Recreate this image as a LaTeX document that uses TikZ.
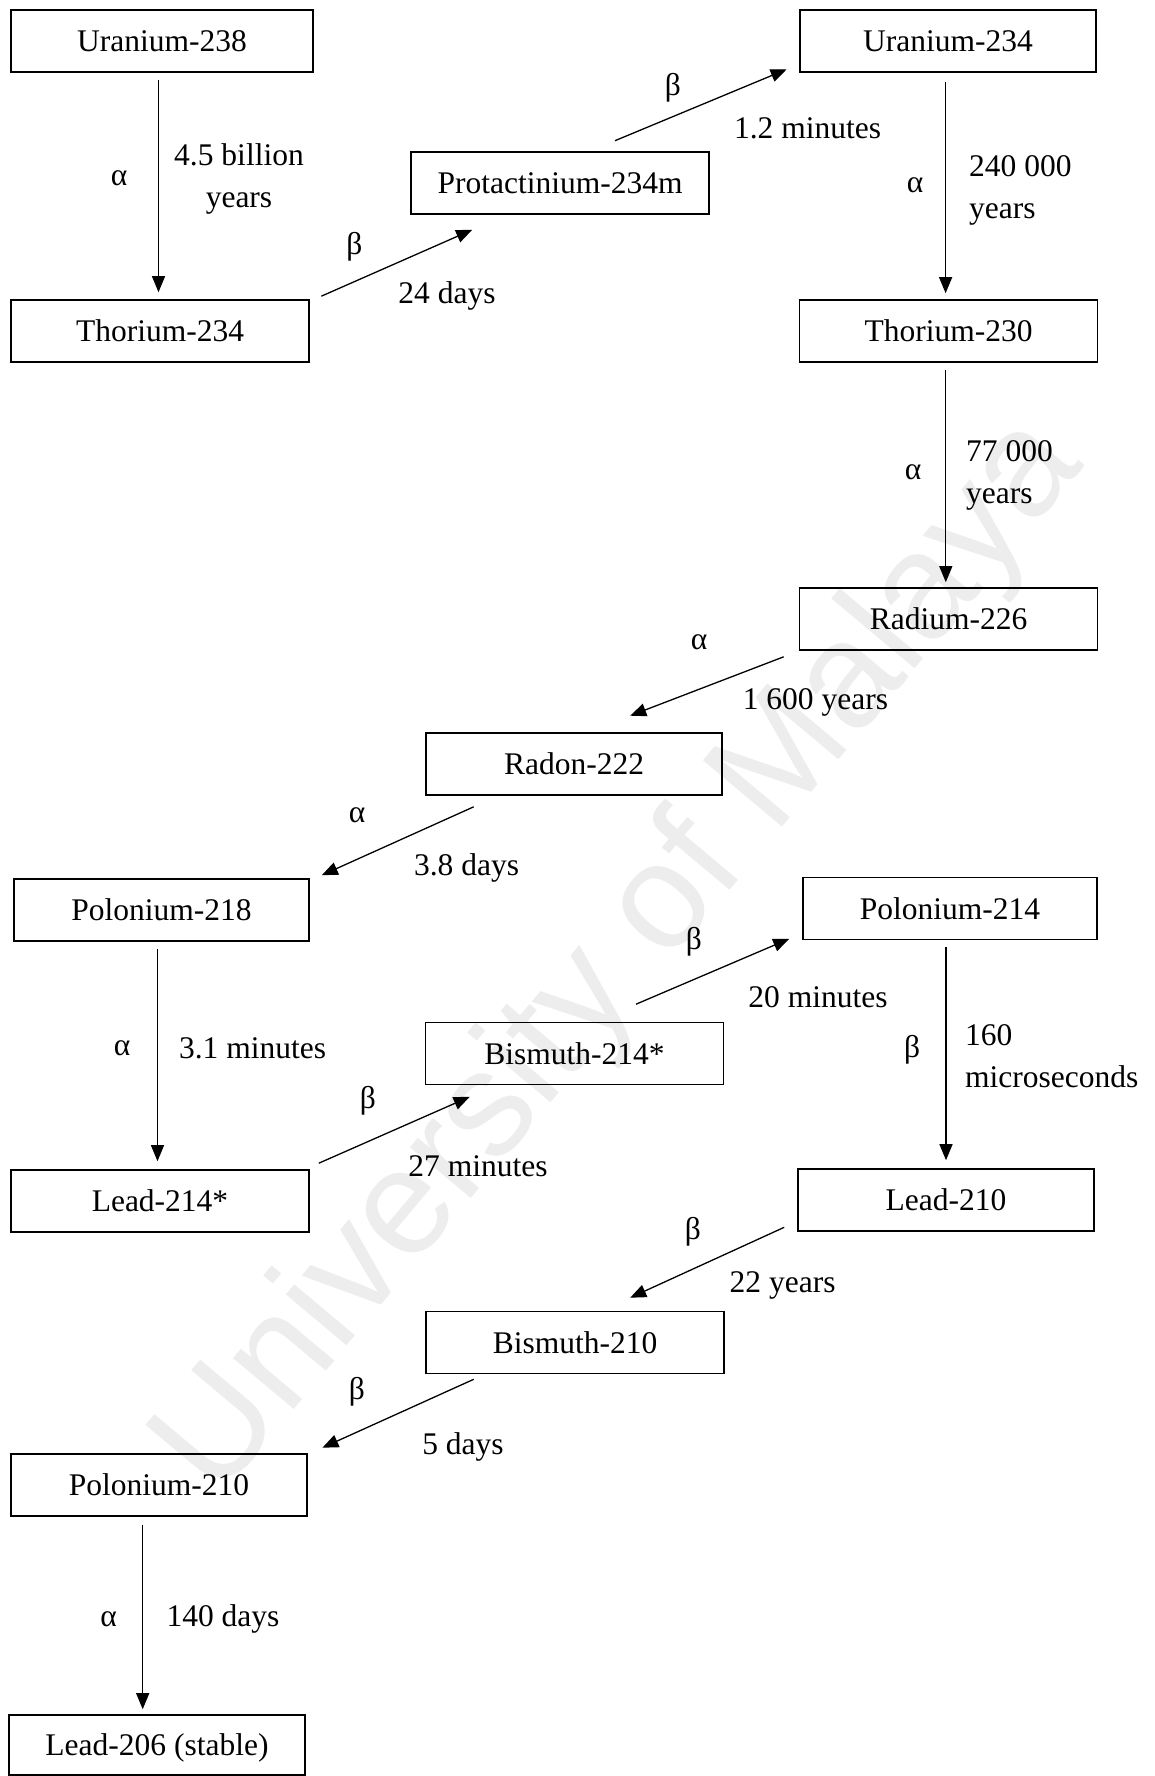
\documentclass[tikz,border=0pt]{standalone}
\usepackage{fontspec}
\setmainfont{Liberation Serif}
\setsansfont{Liberation Sans}
\usetikzlibrary{arrows.meta}
\newcommand{\lblfont}{\fontsize{31.5}{42}\selectfont}
\begin{document}
\begin{tikzpicture}[x=1pt,y=-1pt,
  box/.style={draw, line width=1.6pt, minimum width=298pt, minimum height=62pt, inner sep=0pt, text height=21pt, text depth=0pt, font=\lblfont},
  lab/.style={inner sep=0pt, font=\lblfont},
  arr/.style={line width=1.3pt, -{Triangle[length=16pt,width=13pt]}},
  wmark/.style={inner sep=0pt, text=black!7, font=\fontsize{150}{150}\sffamily}]
\useasboundingbox (0,0) rectangle (1154,1776);
\fill[white] (0,0) rectangle (1154,1776);
% watermark
\node[wmark, rotate=50] (wm) at (622,958) {University of Malaya};
% boxes
\node[box, minimum width=302pt] (u238) at (162,41) {Uranium-238};
\node[box] (th234) at (160,331) {Thorium-234};
\node[box] (pa234) at (560,183) {Protactinium-234m};
\node[box, minimum width=296pt] (u234) at (948,41) {Uranium-234};
\node[box] (th230) at (948.5,331) {Thorium-230};
\node[box] (ra226) at (948.5,619) {Radium-226};
\node[box, minimum width=296pt] (rn222) at (574,764) {Radon-222};
\node[box, minimum width=295pt] (po218) at (161.5,910) {Polonium-218};
\node[box, minimum width=294pt] (po214) at (950,908.5) {Polonium-214};
\node[box] (bi214) at (574.5,1053.5) {Bismuth-214*};
\node[box] (pb214) at (160,1201) {Lead-214*};
\node[box, minimum width=296pt] (pb210) at (946,1200) {Lead-210};
\node[box] (bi210) at (575,1342.5) {Bismuth-210};
\node[box, minimum width=296pt] (po210) at (159,1485) {Polonium-210};
\node[box, minimum width=296pt, minimum height=60pt] (pb206) at (157,1745) {Lead-206 (stable)};
% arrows
\draw[arr] ([shift={(-3.5,7)}]u238.south) -- ([shift={(-1.5,-7)}]th234.north);
\draw[arr] ([shift={(11.5,-3)}]th234.north east) -- ([shift={(62,15)}]pa234.south west);
\draw[arr] ([shift={(55,-10.5)}]pa234.north) -- ([shift={(-12.5,-3.5)}]u234.south west);
\draw[arr] ([shift={(-2.4,9)}]u234.south) -- ([shift={(-2.9,-6)}]th230.north);
\draw[arr] ([shift={(-2.7,7)}]th230.south) -- ([shift={(-2.7,-5)}]ra226.north);
\draw[arr] ([shift={(-15,6)}]ra226.south west) -- ([shift={(205,-16.5)}]rn222.north west);
\draw[arr] ([shift={(48.5,11)}]rn222.south west) -- ([shift={(12,-3)}]po218.north east);
\draw[arr] ([shift={(-4,7)}]po218.south) -- ([shift={(-2.5,-8)}]pb214.north);
\draw[arr] ([shift={(9,-6)}]pb214.north east) -- ([shift={(45,11.5)}]bi214.south west);
\draw[arr] ([shift={(61.5,-17.5)}]bi214.north) -- ([shift={(-13,-1.5)}]po214.south west);
\draw[arr] ([shift={(-4,7)}]po214.south) -- ([shift={(0,-8)}]pb210.north);
\draw[arr] ([shift={(-13,-4.5)}]pb210.south west) -- ([shift={(205,-13)}]bi210.north west);
\draw[arr] ([shift={(48.5,5)}]bi210.south west) -- ([shift={(14.6,-5.5)}]po210.north east);
\draw[arr] ([shift={(-16.3,8)}]po210.south) -- ([shift={(-14.3,-5)}]pb206.north);
% labels
\node[lab] (al1) at (119,178) {α};
\node[lab, align=center, anchor=base] (t1) at (239,207.5) {4.5 billion\\years};
\node[lab] (be1) at (354.5,247) {β};
\node[lab] (t2) at (447,296) {24 days};
\node[lab] (be2) at (673,88) {β};
\node[lab] (t3) at (807.5,128) {1.2 minutes};
\node[lab] (al2) at (915,185) {α};
\node[lab, align=left, anchor=base west] (t4) at (969,218.5) {240 000\\years};
\node[lab] (al3) at (913,472) {α};
\node[lab, align=left, anchor=base west] (t5) at (966,503) {77 000\\years};
\node[lab] (al4) at (699,642) {α};
\node[lab] (t6) at (815.4,702) {1 600 years};
\node[lab] (al5) at (357,815) {α};
\node[lab] (t7) at (466.6,867.5) {3.8 days};
\node[lab] (be3) at (694,942) {β};
\node[lab] (t8) at (818,997) {20 minutes};
\node[lab] (be4) at (912,1050) {β};
\node[lab, align=left, anchor=base west] (t9) at (965,1087) {160\\microseconds};
\node[lab] (al6) at (122,1048) {α};
\node[lab] (t10) at (252.5,1048) {3.1 minutes};
\node[lab] (be5) at (368,1101) {β};
\node[lab] (t11) at (478,1166) {27 minutes};
\node[lab] (be6) at (693,1232) {β};
\node[lab] (t12) at (782.6,1285.4) {22 years};
\node[lab] (be7) at (357,1392) {β};
\node[lab] (t13) at (463,1447) {5 days};
\node[lab] (al7) at (108.7,1619) {α};
\node[lab] (t14) at (223,1619) {140 days};
\end{tikzpicture}
\end{document}
